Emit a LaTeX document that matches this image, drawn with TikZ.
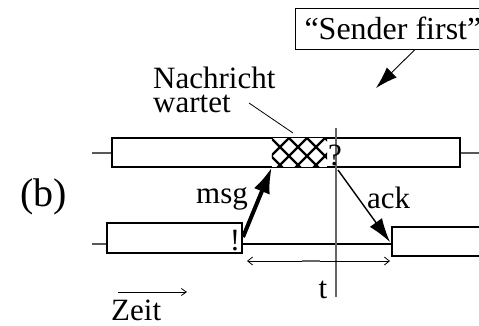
\documentclass[tikz,border=0pt]{standalone}
\usepackage{fontspec}
\setmainfont{Liberation Serif}
\usetikzlibrary{arrows.meta}
\tikzset{
  lbl/.style={inner sep=0pt, font=\fontsize{31}{24}\selectfont},
  proc/.style={draw=black, line width=1.3pt, fill=white, inner sep=0pt},
  stub/.style={draw=black!65, line width=1.3pt},
  thinarrow/.style={line width=0.9pt, -{Latex[length=22pt,width=14pt]}},
  thickarrow/.style={line width=4pt, -{Latex[length=26pt,width=17pt]}},
  barb/.style={line width=0.8pt},
}
\begin{document}
\begin{tikzpicture}[x=1pt,y=-1pt]
\useasboundingbox (0,0) rectangle (479,325);
\clip (0,0) rectangle (479,325);
\fill[white] (0,0) rectangle (479,325);
% process boxes
\node[proc, minimum width=348pt, minimum height=29pt] (p1) at (286,152.5) {};
\node[proc, minimum width=135pt, minimum height=30pt] (p2a) at (174.5,238) {};
\node[proc, minimum width=100pt, minimum height=29pt] (p2b) at (442,241.5) {};
\coordinate (s1l) at (92,153);
\coordinate (s1r) at (479,153);
\coordinate (s2l) at (92,244);
\draw[stub] (s1l) -- (p1.west |- s1l);
\draw[stub] (p1.east |- s1r) -- (s1r);
\draw[stub] (s2l) -- (p2a.west |- s2l);
\draw[line width=1.1pt] (p2a.east |- s2l) -- (p2b.west |- s2l);
% hatched waiting region
\node[fill=white, inner sep=0pt, minimum width=55pt, minimum height=29pt] (hatch) at (299.5,152.5) {};
\begin{scope}
\clip (hatch.south west) rectangle (hatch.north east);
\foreach \k in {-4,...,4} {
  \draw[line width=2.2pt] (133+18*\k-40,-40) -- (133+18*\k+240,240);
  \draw[line width=2.2pt] (427+18*\k+40,-40) -- (427+18*\k-240,240);
}
\end{scope}
\draw[line width=1.3pt] (hatch.south west) -- (hatch.south east);
% vertical time marker
\coordinate (vt) at (336,128);
\coordinate (vb) at (336,297);
\draw[black!60, line width=1.2pt] (vt) -- (vb);
% labels
\node[lbl, anchor=base] (q) at (335,165) {?};
\node[lbl, anchor=base] (ex) at (235,250) {!};
\node[lbl, anchor=base west] (msg) at (196,203) {msg};
\node[lbl, anchor=base west] (ack) at (367,208) {ack};
\node[lbl, anchor=base] (t) at (323,298) {t};
\node[lbl, anchor=base west] (zeit) at (111,320) {Zeit};
\node[inner sep=0pt, anchor=base west, font=\fontsize{40}{44}\selectfont] (b) at (20,206) {(b)};
\node[lbl, anchor=base west, align=left] (nw) at (153,112) {Nachricht\\wartet};
\node[draw, line width=1pt, inner xsep=9pt, inner ysep=0pt, text height=31pt, text depth=10pt,
      anchor=base west, font=\fontsize{32}{34}\selectfont] (sf) at (295,39) {``Sender first''};
% connectors
\coordinate (nwl) at (249,103);
\coordinate (nwe) at (293,133);
\draw[line width=0.8pt] (nwl) -- (nwe);
\coordinate (msgs) at (243,237);
\draw[thickarrow] (msgs) -- (hatch.south west);
\coordinate (acks) at (338,170);
\coordinate (acke) at (390,242);
\draw[line width=1.4pt, -{Latex[length=24pt,width=15pt]}] (acks) -- (acke);
\coordinate (sfa) at (376,88);
\draw[thinarrow] ([xshift=120pt]sf.south west) -- (sfa);
% interval t
\coordinate (tl) at (247,261);
\coordinate (tr) at (390,261);
\draw[barb, {Straight Barb[length=5pt,width=8pt]}-{Straight Barb[length=5pt,width=8pt]}] (tl) -- (tr);
\coordinate (gl) at (302,261);
\coordinate (gr) at (320,261);
\draw[black!60, line width=2pt] (gl) -- (gr);
% time arrow
\coordinate (za) at (118,292);
\coordinate (zb) at (187,292);
\draw[barb, -{Straight Barb[length=5pt,width=7pt]}] (za) -- (zb);
\end{tikzpicture}
\end{document}
